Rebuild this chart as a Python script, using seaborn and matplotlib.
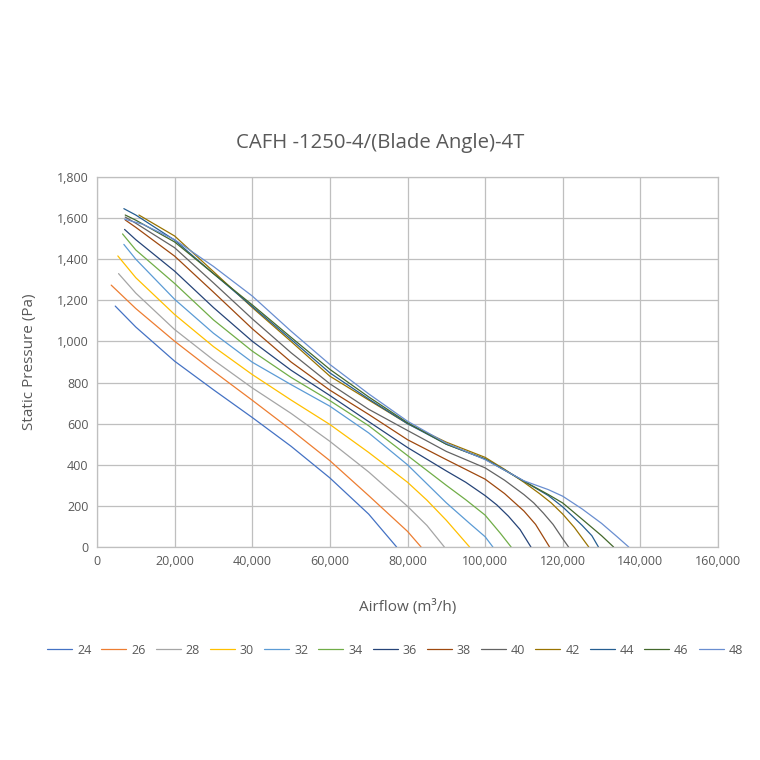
import matplotlib
matplotlib.use("Agg")
import matplotlib.pyplot as plt
import matplotlib.ticker as mticker
import seaborn as sns
import pandas as pd

# ---- data ----
angles = ["24", "26", "28", "30", "32", "34", "36", "38", "40", "42", "44", "46", "48"]

x24 = [4700, 10000, 20000, 30000, 40000, 50000, 60000, 70000, 77200]
p24 = [1172, 1070, 904, 765, 630, 490, 336, 160, 0]

x26 = [3660, 10000, 20000, 30000, 40000, 50000, 60000, 70000, 80000, 83500]
p26 = [1274, 1160, 1001, 855, 714, 570, 420, 250, 76, 0]

x28 = [5550, 10000, 20000, 30000, 40000, 50000, 60000, 70000, 80000, 85000, 89500]
p28 = [1330, 1235, 1058, 910, 774, 650, 514, 365, 198, 105, 0]

x30 = [5370, 10000, 20000, 30000, 40000, 50000, 60000, 70000, 80000, 85000, 90000, 96000]
p30 = [1416, 1310, 1131, 975, 839, 715, 596, 460, 315, 228, 130, 0]

x32 = [6920, 10000, 20000, 30000, 40000, 50000, 60000, 70000, 80000, 90000, 96000, 100000, 102000]
p32 = [1472, 1400, 1205, 1040, 899, 790, 685, 555, 400, 215, 115, 50, 0]

x34 = [6580, 10000, 20000, 30000, 40000, 50000, 60000, 70000, 80000, 90000, 95000, 100000, 104000, 106700]
p34 = [1523, 1445, 1282, 1105, 953, 825, 712, 590, 445, 300, 230, 155, 65, 0]

x36 = [7100, 10000, 20000, 30000, 40000, 50000, 60000, 70000, 80000, 90000, 95000, 100000, 103000, 106000, 109000, 111800]
p36 = [1545, 1495, 1342, 1165, 1001, 860, 737, 610, 484, 370, 315, 250, 205, 150, 85, 0]

x38 = [7270, 10000, 20000, 30000, 40000, 50000, 60000, 70000, 80000, 90000, 100000, 105000, 110000, 113000, 116600]
p38 = [1591, 1555, 1415, 1240, 1062, 900, 763, 645, 522, 425, 330, 260, 175, 110, 0]

x40 = [7270, 10000, 20000, 30000, 40000, 50000, 60000, 70000, 80000, 90000, 100000, 105000, 110000, 112500, 115000, 117500, 120000, 121500]
p40 = [1605, 1575, 1456, 1285, 1110, 945, 794, 670, 567, 465, 385, 325, 255, 215, 165, 110, 40, 0]

x42 = [10800, 20000, 30000, 40000, 50000, 60000, 70000, 80000, 90000, 100000, 105000, 110000, 114000, 117000, 120000, 123000, 126700]
p42 = [1615, 1513, 1340, 1165, 1000, 831, 715, 600, 510, 436, 378, 315, 260, 215, 160, 95, 0]

x44 = [6920, 10000, 20000, 30000, 40000, 50000, 60000, 70000, 80000, 90000, 100000, 105000, 110000, 116300, 120000, 125000, 127500, 129200]
p44 = [1646, 1615, 1493, 1330, 1170, 1010, 847, 720, 600, 500, 428, 375, 320, 250, 195, 105, 55, 0]

x46 = [7270, 10000, 20000, 30000, 40000, 50000, 60000, 70000, 80000, 90000, 100000, 110000, 116300, 120000, 125000, 130000, 133100]
p46 = [1615, 1590, 1484, 1330, 1178, 1020, 864, 730, 605, 500, 428, 320, 255, 214, 135, 55, 0]

x48 = [7100, 11800, 20000, 30000, 40000, 50000, 60000, 70000, 80000, 90000, 100000, 110000, 116300, 120000, 125000, 130000, 134000, 137000]
p48 = [1595, 1570, 1495, 1365, 1221, 1050, 888, 745, 612, 505, 425, 322, 279, 247, 185, 115, 50, 0]

xs = [x24, x26, x28, x30, x32, x34, x36, x38, x40, x42, x44, x46, x48]
ps = [p24, p26, p28, p30, p32, p34, p36, p38, p40, p42, p44, p46, p48]

colors = ["#4472C4", "#ED7D31", "#A5A5A5", "#FFC000", "#5B9BD5", "#70AD47",
          "#264478", "#9E480E", "#636363", "#997300", "#255E91", "#43682B", "#698ED0"]

x_ticks = [0, 20000, 40000, 60000, 80000, 100000, 120000, 140000, 160000]
y_ticks = [0, 200, 400, 600, 800, 1000, 1200, 1400, 1600, 1800]

title = "CAFH -1250-4/(Blade Angle)-4T"
xlabel = "Airflow (m\u00b3/h)"
ylabel = "Static Pressure (Pa)"

rows = []
for a, xv, pv in zip(angles, xs, ps):
    for i, (xx, pp) in enumerate(zip(xv, pv)):
        rows.append({"angle": a, "order": i, "airflow": xx, "pressure": pp})
df = pd.DataFrame(rows)

# ---- plot ----
sns.set_theme(style="white")
plt.rcParams["font.family"] = ["Open Sans", "DejaVu Sans"]
txt = "#595959"

fig = plt.figure(figsize=(7.6, 7.6), dpi=100)
ax = fig.add_axes([97 / 760, 1 - 547 / 760, 621 / 760, 370 / 760])

sns.lineplot(data=df, x="airflow", y="pressure", hue="angle", hue_order=angles,
             palette=colors, sort=False, estimator=None, units="angle",
             linewidth=0.9, ax=ax, legend=True)

ax.set_xlim(0, 160000)
ax.set_ylim(0, 1800)
ax.set_xticks(x_ticks)
ax.set_yticks(y_ticks)
ax.xaxis.set_major_formatter(mticker.FuncFormatter(lambda v, p: f"{int(v):,}"))
ax.yaxis.set_major_formatter(mticker.FuncFormatter(lambda v, p: f"{int(v):,}"))
ax.tick_params(axis="both", length=0, labelsize=9, colors=txt, pad=6)
ax.grid(True, color="#BFBFBF", linewidth=0.9)
ax.set_axisbelow(True)
for s in ax.spines.values():
    s.set_color("#BFBFBF")
    s.set_linewidth(0.9)

ax.set_xlabel(xlabel, fontsize=11, color=txt, labelpad=22)
ax.set_ylabel(ylabel, fontsize=11, color=txt, labelpad=14)
fig.text(0.5, 1 - 143 / 760, title, ha="center", va="center", fontsize=14.7, color=txt)

handles, labels = ax.get_legend_handles_labels()
ax.legend(handles, labels, loc="center", bbox_to_anchor=(395 / 760, 1 - 650 / 760),
          bbox_transform=fig.transFigure, ncol=13, frameon=False, fontsize=9,
          handlelength=2.0, handletextpad=0.4, columnspacing=0.8, labelcolor=txt)

fig.savefig("out.png", dpi=100)
